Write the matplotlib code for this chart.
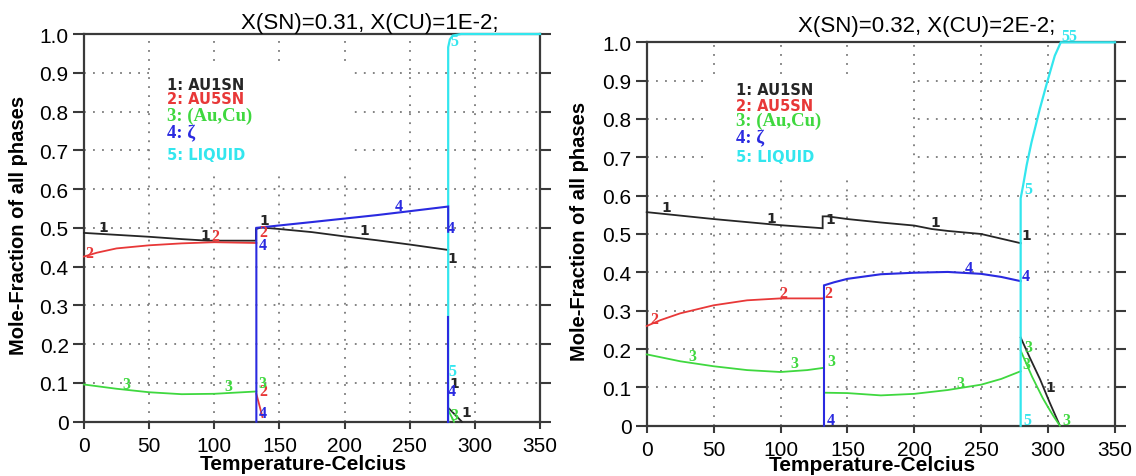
import matplotlib
matplotlib.use("Agg")
import matplotlib.pyplot as plt
from matplotlib.patches import Rectangle

# colours for the five phases
C1 = '#262626'   # AU1SN
C2 = '#e83838'   # AU5SN
C3 = '#3fd83f'   # (Au,Cu)
C4 = '#2a2ae0'   # zeta
C5 = '#33e6ee'   # liquid

# ---- left panel: X(SN)=0.31, X(CU)=1E-2 ----
L_t1 = [0, 25, 50, 75, 95, 132, 132, 136, 150, 175, 200, 225, 250, 279.5]
L_y1 = [0.487, 0.482, 0.477, 0.471, 0.467, 0.467, 0.497, 0.501, 0.497, 0.489, 0.478, 0.468, 0.457, 0.443]
L_t1b = [279.5, 290]
L_y1b = [0.036, 0.0]
L_t2 = [0, 10, 25, 50, 75, 100, 132.3]
L_y2 = [0.426, 0.436, 0.447, 0.455, 0.460, 0.463, 0.461]
L_t2b = [132.3, 137]
L_y2b = [0.072, 0.012]
L_t3 = [0, 25, 50, 75, 100, 132.3]
L_y3 = [0.096, 0.085, 0.076, 0.071, 0.072, 0.078]
L_t3b = [279.5, 284]
L_y3b = [0.03, 0.0]
L_t4 = [132.3, 132.3, 175, 200, 225, 250, 279.5, 279.5]
L_y4 = [0.0, 0.5, 0.515, 0.524, 0.533, 0.543, 0.555, 0.49]
L_t4b = [279.5, 279.5]
L_y4b = [0.27, 0.0]
L_t5 = [279.5, 279.5, 280.8, 283, 289.5, 350]
L_y5 = [0.0, 0.966, 0.986, 0.996, 1.0, 1.0]

# ---- right panel: X(SN)=0.32, X(CU)=2E-2 ----
R_t1 = [0, 25, 50, 75, 100, 131.5, 131.5, 135, 150, 175, 200, 213, 225, 250, 279.5]
R_y1 = [0.557, 0.548, 0.539, 0.531, 0.523, 0.515, 0.546, 0.546, 0.539, 0.530, 0.522, 0.513, 0.508, 0.500, 0.476]
R_t1b = [279.5, 286, 294, 301, 308.8]
R_y1b = [0.23, 0.18, 0.121, 0.062, 0.0]
R_t2 = [0, 10, 25, 50, 75, 100, 132.5]
R_y2 = [0.26, 0.275, 0.293, 0.314, 0.327, 0.332, 0.332]
R_t3 = [0, 25, 50, 75, 100, 120, 132.5]
R_y3 = [0.186, 0.168, 0.155, 0.145, 0.140, 0.145, 0.151]
R_t3b = [132.5, 150, 175, 200, 225, 250, 265, 279.5]
R_y3b = [0.086, 0.085, 0.079, 0.083, 0.093, 0.107, 0.122, 0.142]
R_t3c = [279.5, 284, 288, 292, 296, 300, 304, 308.8]
R_y3c = [0.196, 0.16, 0.128, 0.10, 0.072, 0.048, 0.025, 0.0]
R_t4 = [132.5, 132.5, 140, 150, 175, 200, 225, 250, 265, 279.5]
R_y4 = [0.0, 0.366, 0.374, 0.383, 0.395, 0.399, 0.401, 0.396, 0.388, 0.377]
R_t5 = [279.5, 279.5, 281.3, 284, 287.6, 293.8, 299.3, 305, 309.5, 350]
R_y5 = [0.0, 0.593, 0.626, 0.68, 0.739, 0.826, 0.896, 0.965, 1.0, 1.0]

# curve number labels: (text, colour, x, y)
L_tags = [('1', C1, 14.5, 0.503), ('1', C1, 93, 0.482), ('1', C1, 138.3, 0.52), ('1', C1, 215, 0.494),
          ('1', C1, 282.6, 0.422), ('1', C1, 284, 0.10), ('1', C1, 293.6, 0.026),
          ('2', C2, 4, 0.436), ('2', C2, 101, 0.478), ('2', C2, 137.5, 0.078), ('2', C2, 137.5, 0.49),
          ('3', C3, 32.4, 0.096), ('3', C3, 110.8, 0.091), ('3', C3, 137, 0.10), ('3', C3, 284, 0.017),
          ('4', C4, 241.4, 0.557), ('4', C4, 281.5, 0.50), ('4', C4, 137, 0.457), ('4', C4, 137, 0.022),
          ('4', C4, 282.6, 0.078), ('5', C5, 284, 0.983), ('5', C5, 282.6, 0.13)]
R_tags = [('1', C1, 15, 0.57), ('1', C1, 93, 0.543), ('1', C1, 137.5, 0.539), ('1', C1, 216, 0.53),
          ('1', C1, 283.6, 0.497), ('1', C1, 301.8, 0.10),
          ('2', C2, 5.4, 0.277), ('2', C2, 102, 0.347), ('2', C2, 136, 0.347),
          ('3', C3, 34, 0.181), ('3', C3, 110.5, 0.164), ('3', C3, 138, 0.168), ('3', C3, 234.6, 0.111),
          ('3', C3, 285, 0.204), ('3', C3, 284, 0.161), ('3', C3, 313.7, 0.016),
          ('4', C4, 241, 0.412), ('4', C4, 283.6, 0.39), ('4', C4, 137.5, 0.016),
          ('5', C5, 285, 0.617), ('55', C5, 316, 1.017), ('5', C5, 284.3, 0.016)]

legend_items = [('1: AU1SN', C1, 'DejaVu Sans', 10.5),
                ('2: AU5SN', C2, 'DejaVu Sans', 10.5),
                ('3: (Au,Cu)', C3, 'Liberation Serif', 13.5),
                ('4: \u03b6', C4, 'Liberation Serif', 13.5),
                ('5: LIQUID', C5, 'DejaVu Sans', 10.5)]

fig = plt.figure(figsize=(11.36, 4.77), dpi=100)
axL = fig.add_axes([0.0739, 0.1138, 0.4015, 0.8128])
axR = fig.add_axes([0.5693, 0.1055, 0.4122, 0.8037])


def style_axes(ax, label_x, label_y):
    ax.set_xlim(0, 350)
    ax.set_ylim(0, 1.0)
    ax.set_xticks(range(0, 351, 50))
    ax.set_yticks([i / 10 for i in range(11)])
    ax.set_yticklabels(['0'] + ['%.1f' % (i / 10) for i in range(1, 11)])
    ax.set_axisbelow(True)
    ax.grid(True, linestyle=(0, (1, 4)), color='#7a7a7a', linewidth=1.3)
    for s in ax.spines.values():
        s.set_linewidth(1.6)
        s.set_color('#3a3a3a')
    ax.tick_params(axis='both', labelsize=15, width=1.5, color='#3a3a3a', direction='out')
    ax.tick_params(axis='y', length=8, pad=3, right=True)
    ax.tick_params(axis='x', length=5, pad=5)
    for lab in ax.get_xticklabels() + ax.get_yticklabels():
        lab.set_fontfamily('Liberation Sans')
    ax.set_xlabel('Temperature-Celcius', fontsize=15, fontweight='bold', family='Liberation Sans',
                  va='center')
    ax.set_ylabel('Mole-Fraction of all phases', fontsize=14.5, fontweight='bold', family='Liberation Sans',
                  va='center')
    ax.xaxis.set_label_coords(label_x, label_y)
    ax.yaxis.set_label_coords(-0.143, 0.51)


def draw_tags(ax, tags):
    for txt, col, x, y in tags:
        if col == C1:
            ax.text(x, y, txt, color=col, fontsize=10, fontweight='bold', family='DejaVu Sans',
                    ha='center', va='center', zorder=5, clip_on=False)
        else:
            ax.text(x, y, txt, color=col, fontsize=11.5, fontweight='bold', family='Liberation Serif',
                    ha='center', va='center', zorder=5, clip_on=False)


def draw_legend(ax, x0, rows):
    for (txt, col, fam, fs), y in zip(legend_items, rows):
        ax.text(x0, y, txt, color=col, fontsize=fs, fontweight='bold', family=fam,
                ha='left', va='center', zorder=5)


def plot(ax, t, y, col, lw=1.3):
    ax.plot(t, y, color=col, linewidth=lw, zorder=3, clip_on=False, solid_joinstyle='miter')


# left panel
style_axes(axL, 0.482, -0.108)
axL.add_patch(Rectangle((55, 0.635), 150, 0.29, facecolor='white', edgecolor='none', zorder=1))
plot(axL, L_t1, L_y1, C1)
plot(axL, L_t1b, L_y1b, C1)
plot(axL, L_t2, L_y2, C2)
plot(axL, L_t2b, L_y2b, C2)
plot(axL, L_t3, L_y3, C3)
plot(axL, L_t3b, L_y3b, C3)
plot(axL, L_t5, L_y5, C5, 1.6)
plot(axL, L_t4, L_y4, C4, 1.5)
plot(axL, L_t4b, L_y4b, C4, 1.5)
draw_tags(axL, L_tags)
draw_legend(axL, 64, [0.869, 0.833, 0.791, 0.745, 0.689])
fig.text(0.3257, 0.939, 'X(SN)=0.31, X(CU)=1E-2;', fontsize=16, family='Liberation Sans',
         ha='center', va='baseline')

# right panel
style_axes(axR, 0.481, -0.1)
axR.add_patch(Rectangle((45, 0.655), 153, 0.26, facecolor='white', edgecolor='none', zorder=1))
plot(axR, R_t1, R_y1, C1)
plot(axR, R_t1b, R_y1b, C1)
plot(axR, R_t2, R_y2, C2)
plot(axR, R_t3, R_y3, C3)
plot(axR, R_t3b, R_y3b, C3)
plot(axR, R_t3c, R_y3c, C3)
plot(axR, R_t4, R_y4, C4, 1.5)
plot(axR, R_t5, R_y5, C5, 1.6)
draw_tags(axR, R_tags)
draw_legend(axR, 67, [0.878, 0.835, 0.796, 0.752, 0.703])
fig.text(0.816, 0.933, 'X(SN)=0.32, X(CU)=2E-2;', fontsize=16, family='Liberation Sans',
         ha='center', va='baseline')

fig.savefig('out.png', dpi=100)
